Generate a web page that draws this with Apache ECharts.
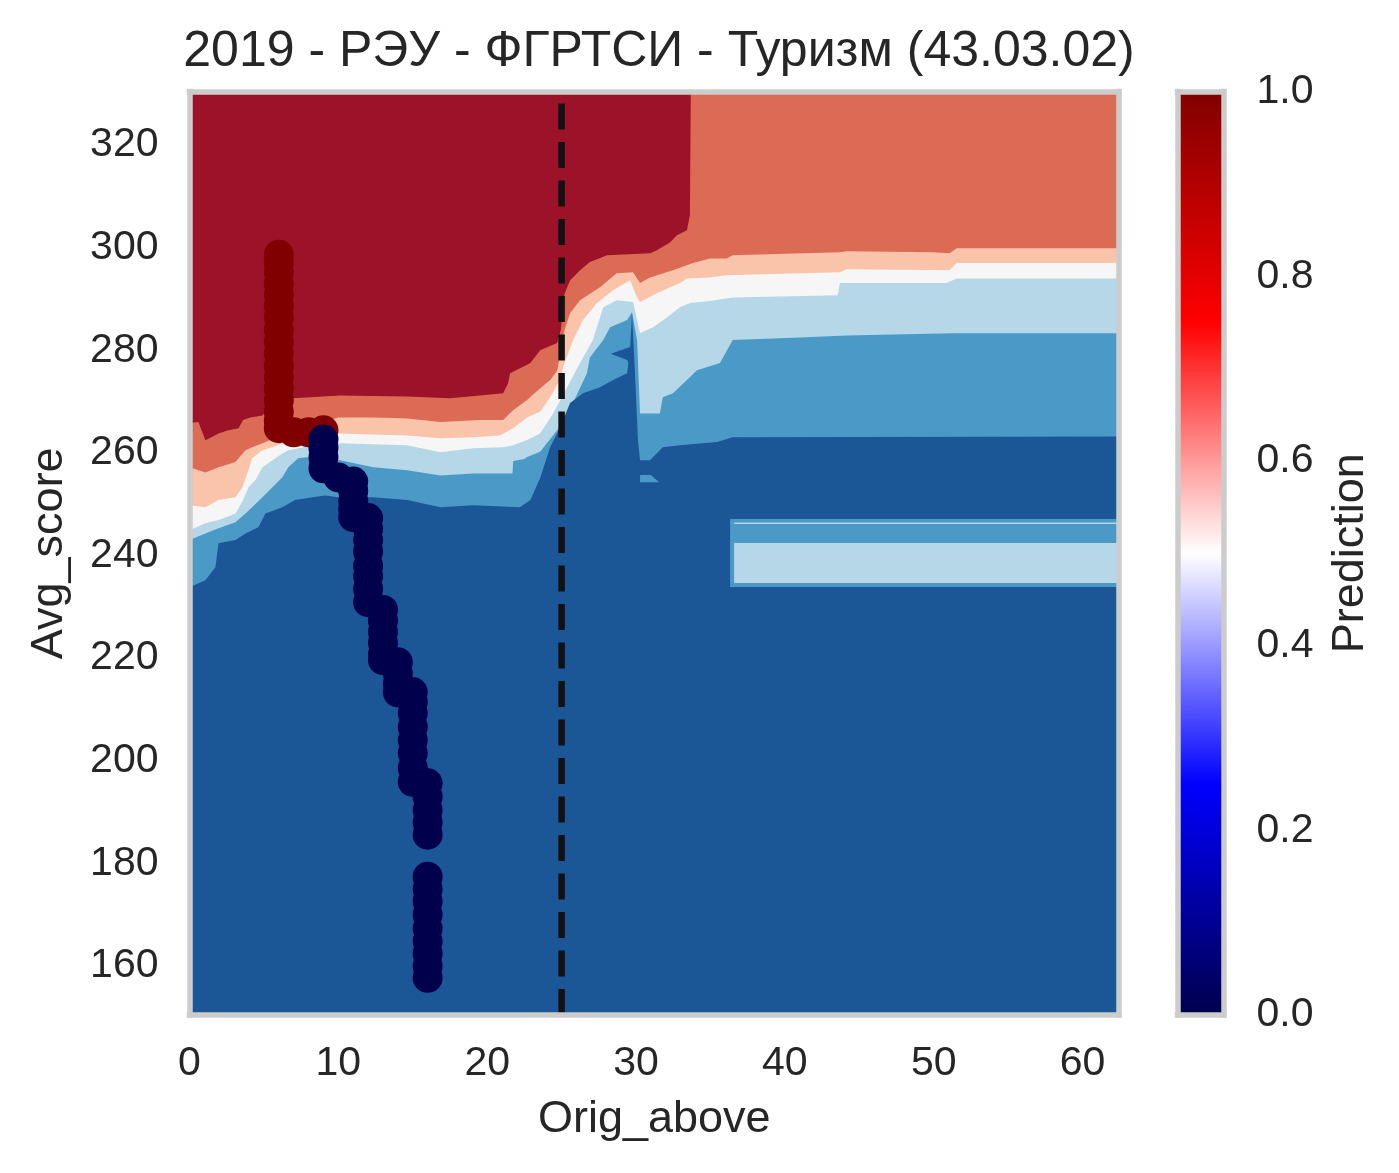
<!DOCTYPE html>
<html><head><meta charset="utf-8">
<script src="https://cdn.jsdelivr.net/npm/echarts@6/dist/echarts.min.js"></script>
<style>html,body{margin:0;padding:0;background:#fff}#c{width:1399px;height:1173px}</style>
</head><body><div id="c"></div>
<script>
// ---------- data ----------
const titleText = '2019 - РЭУ - ФГРТСИ - Туризм (43.03.02)';
const xName = 'Orig_above';
const yName = 'Avg_score';
const cbName = 'Prediction';
const xRange = [0, 62.45];
const yRange = [150.45, 330.43];
const xTicks = [0, 10, 20, 30, 40, 50, 60];
const yTicks = [160, 180, 200, 220, 240, 260, 280, 300, 320];
const cbRange = [0, 1];
const cbTicks = [0, 0.2, 0.4, 0.6, 0.8, 1.0];
const threshold = 25;

// contour level colours (RdBu_r-like), from top level to bottom level
const levelColors = ['#9b1229', '#dc6b55', '#f9c4a9', '#f6f6f6', '#b6d7e8', '#4a99c7', '#1b5796'];

// upper boundary [x, Avg_score] of each filled contour level
const salmonTop = [[0,265.8],[0.6,266.0],[1.07,262.45],[1.95,263.8],[2.6,264.4],[3.3,264.8],[3.6,266.4],[4.1,266.9],[4.9,267.3],[5.1,268.0],[5.5,268.3],[6.0,269.5],[7.0,270.65],[10.1,271.2],[14.6,271.0],[17.5,270.65],[19.5,271.2],[21.07,271.6],[21.4,273.5],[21.54,275.5],[22.9,277.5],[23.56,280.0],[24.7,281.4],[24.95,284.0],[25.2,291.0],[25.57,293.65],[26.24,295.6],[26.9,297.2],[28.05,298.5],[30.94,298.9],[31.4,299.5],[32.28,301.0],[32.75,302.4],[33.42,303.4],[33.62,306.3],[33.68,331],[62.6,331]];
const pinkTop = [[0,257.2],[1.07,256.2],[1.95,257.2],[3.09,258.2],[3.76,260.5],[4.2,261.1],[4.9,261.9],[5.5,262.6],[6.3,263.6],[8.0,265.0],[10.0,266.9],[12.35,266.9],[14.63,266.7],[16.85,266.0],[19.53,266.4],[21.07,266.4],[21.74,268.3],[22.68,270.3],[23.56,272.6],[24.23,274.2],[24.7,276.0],[25.2,284.0],[25.57,287.2],[26.24,289.75],[27.58,292.3],[28.7,295.0],[29.8,295.2],[30.27,293.1],[30.94,294.2],[32.48,295.6],[33.83,297.0],[34.97,297.9],[36.1,297.9],[36.5,298.5],[43.7,299.1],[44.16,299.3],[49.93,299.1],[51.07,298.9],[51.54,299.9],[62.6,299.9]];
const whiteTop = [[0,249.8],[1.07,249.4],[1.95,250.8],[3.09,251.35],[3.56,253.3],[3.96,256.6],[4.2,258.95],[4.9,260.5],[5.57,261.1],[6.24,261.9],[8.0,263.0],[10.0,263.8],[14.63,263.4],[16.85,262.85],[19.06,263.05],[20.87,263.4],[21.74,264.8],[22.68,266.9],[23.56,268.0],[24.23,270.85],[24.9,274.2],[25.1,276.7],[25.77,282.0],[26.44,285.9],[27.38,289.2],[28.46,291.7],[29.6,293.65],[30.07,290.3],[30.27,289.4],[31.4,291.1],[32.95,293.1],[33.42,294.0],[34.97,294.2],[36.1,294.6],[43.7,295.2],[44.16,295.8],[51.07,295.6],[51.54,297.0],[62.6,297.0]];
const lightBlueTop = [[0,244.9],[1.07,246.3],[1.95,246.9],[3.09,248.2],[3.6,250.8],[3.96,253.3],[4.43,254.7],[4.9,257.2],[5.57,258.55],[6.24,259.9],[6.64,260.5],[8.0,261.3],[10.13,261.9],[14.63,261.5],[16.85,260.1],[19.06,260.9],[21.07,261.1],[21.74,261.5],[22.68,262.5],[23.56,263.8],[24.43,267.7],[25.37,272.8],[26.24,277.5],[27.1,282.0],[27.8,288.4],[28.7,289.75],[29.8,289.4],[30.27,283.3],[31.14,284.5],[32.08,286.4],[32.95,288.4],[33.62,289.2],[34.97,289.6],[36.5,290.3],[43.56,290.7],[43.7,293.1],[50.87,293.1],[51.54,294.0],[62.6,294.0]];
const mediumBlueTop = [[0,243.0],[1.07,244.3],[1.95,245.3],[3.09,246.5],[3.76,248.2],[4.2,249.4],[4.9,251.35],[5.57,253.3],[6.24,255.25],[6.64,257.2],[7.3,258.95],[7.8,259.15],[9.0,258.8],[10.13,258.55],[12.35,257.2],[14.63,256.6],[16.85,255.6],[19.06,256.0],[21.7,256.0],[21.75,258.4],[22.5,258.8],[22.68,259.2],[23.56,260.2],[24.7,264.4],[25.77,269.7],[26.7,275.5],[26.9,278.6],[27.8,282.0],[28.26,284.5],[29.4,285.9],[29.73,287.4],[30.07,282.0],[30.27,267.7],[31.6,267.7],[31.8,270.85],[32.48,271.6],[33.42,274.2],[34.1,276.1],[35.64,277.5],[36.5,282.0],[41.0,282.5],[44.16,282.9],[51.28,283.3],[62.6,283.3]];
const darkBlueTop = [[0,233.8],[1.07,235.2],[1.74,237.7],[1.95,242.4],[3.09,243.0],[3.76,244.3],[4.63,245.5],[5.1,248.2],[6.24,249.4],[7.1,250.8],[8.26,251.35],[9.13,251.7],[10.0,251.35],[12.35,251.35],[14.63,250.8],[16.85,249.4],[19.06,249.8],[22.2,249.4],[22.9,250.8],[23.56,255.1],[24.23,261.1],[24.9,265.0],[25.57,269.7],[26.44,271.6],[27.58,272.8],[28.46,274.2],[29.4,275.5],[29.6,280.0],[29.73,287.4],[29.93,275.5],[30.13,262.45],[30.27,258.55],[30.94,258.55],[31.8,261.1],[32.95,261.5],[35.44,262.1],[36.5,263.05],[62.6,263.2]];

// isolated contour patches [x, Avg_score]
const stripeOuter = [[36.32,233.86],[62.6,233.86],[62.6,247.1],[36.32,247.1]];
const stripeInner = [[36.59,234.64],[62.6,234.64],[62.6,242.43],[36.59,242.43]];
const stripeLine = [[36.6,246.15],[62.6,246.15],[62.6,246.45],[36.6,246.45]];
const spikeFlag = [[28.3,279.3],[29.75,280.8],[29.75,276.0],[29.4,278.1]];
const smallIsland = [[30.27,255.7],[31.0,255.7],[31.55,254.3],[30.27,254.3]];

// applicants: label 1 (admitted) and label 0
const posPoints = [[6,298.6],[6,297.2],[6,295.3],[6,293.0],[6,290.8],[6,288.6],[6,286.4],[6,284.0],[6,281.7],[6,279.4],[6,277.0],[6,274.8],[6,272.5],[6,270.2],[6,268.0],[6,266.2],[6,264.8],[7,264.0],[8,264.0],[9,264.4]];
const negPoints = [[9,262.6],[9,261.0],[9,259.2],[9,257.0],[10,255.2],[11,254.4],[11,252.6],[11,250.6],[11,249.0],[11,247.5],[12,247.3],[12,245.2],[12,243.0],[12,240.8],[12,238.0],[12,236.0],[12,233.5],[12,230.9],[13,229.4],[13,227.3],[13,225.1],[13,223.0],[13,220.8],[13,219.6],[14,219.2],[14,217.0],[14,215.0],[14,213.3],[15,213.4],[15,211.5],[15,209.3],[15,206.6],[15,204.0],[15,201.5],[15,198.6],[15,195.9],[16,195.6],[16,193.0],[16,190.4],[16,188.0],[16,185.6],[16,177.4],[16,175.0],[16,172.6],[16,170.0],[16,167.3],[16,164.8],[16,162.4],[16,160.0],[16,157.7]];

// seismic colormap
const cbStops = [0, 0.25, 0.5, 0.75, 1];
const cbColors = ['#00004c', '#0000ff', '#ffffff', '#ff0000', '#800000'];

// ---------- chart ----------
const FONT = 'Liberation Sans, Arial, sans-serif';
const TXT = '#262626';
const chart = echarts.init(document.getElementById('c'), null, {renderer: 'canvas', width: 1399, height: 1173});

const frameLine = {show: true, onZero: false, lineStyle: {color: '#cccccc', width: 5.5, cap: 'square'}};
function axis(extra) {
  return Object.assign({type: 'value', axisLine: frameLine, axisTick: {show: false},
    axisLabel: {show: false}, splitLine: {show: false}, z: 10}, extra);
}
const tickLabel = (vals, margin, fmt) => ({show: true, customValues: vals, margin: margin,
  fontSize: 41, color: TXT, fontFamily: FONT, formatter: fmt});
const nameStyle = {fontSize: 45, color: TXT, fontFamily: FONT};

const bands = [
  [salmonTop, levelColors[1]], [pinkTop, levelColors[2]], [whiteTop, levelColors[3]],
  [lightBlueTop, levelColors[4]], [mediumBlueTop, levelColors[5]], [darkBlueTop, levelColors[6]]
];
const bandSeries = bands.map(([d, c]) => ({
  type: 'line', xAxisIndex: 0, yAxisIndex: 0, data: d, symbol: 'none', showSymbol: false,
  silent: true, lineStyle: {width: 0, opacity: 0}, areaStyle: {color: c, opacity: 1, origin: 'start'}, z: 2
}));

const patches = [
  {pts: stripeOuter, color: levelColors[5]},
  {pts: stripeInner, color: levelColors[4]},
  {pts: stripeLine, color: levelColors[4]},
  {pts: spikeFlag, color: levelColors[6]},
  {pts: smallIsland, color: levelColors[5]}
];

const option = {
  animation: false,
  backgroundColor: '#ffffff',
  title: {text: titleText, left: 654, top: 22, textAlign: 'center',
    textStyle: {fontSize: 50, fontWeight: 'normal', color: TXT, fontFamily: FONT}},
  grid: [
    {left: 189.5, top: 91.5, width: 929.5, height: 923.5, show: true, backgroundColor: levelColors[0], borderWidth: 0},
    {left: 1177.5, top: 91.5, width: 46, height: 923.5, show: false}
  ],
  xAxis: [
    axis({gridIndex: 0, position: 'bottom', min: xRange[0], max: xRange[1],
      axisLabel: tickLabel(xTicks, 28), name: xName, nameLocation: 'middle', nameGap: 82, nameTextStyle: nameStyle}),
    axis({gridIndex: 0, position: 'top', min: xRange[0], max: xRange[1]}),
    axis({gridIndex: 1, position: 'bottom', min: cbRange[0], max: cbRange[1]}),
    axis({gridIndex: 1, position: 'top', min: cbRange[0], max: cbRange[1]})
  ],
  yAxis: [
    axis({gridIndex: 0, position: 'left', min: yRange[0], max: yRange[1],
      axisLabel: tickLabel(yTicks, 31), name: yName, nameLocation: 'middle', nameGap: 117, nameTextStyle: nameStyle}),
    axis({gridIndex: 0, position: 'right', min: yRange[0], max: yRange[1]}),
    axis({gridIndex: 1, position: 'left', min: cbRange[0], max: cbRange[1]}),
    axis({gridIndex: 1, position: 'right', min: cbRange[0], max: cbRange[1],
      axisLabel: tickLabel(cbTicks, 33, v => Number(v).toFixed(1)), name: cbName, nameLocation: 'middle',
      nameGap: 105, nameRotate: 90, nameTextStyle: nameStyle})
  ],
  series: [
    ...bandSeries,
    {
      type: 'custom', xAxisIndex: 0, yAxisIndex: 0, silent: true, clip: true, z: 3,
      data: patches.map(p => p.pts[0]),
      renderItem: (params, api) => {
        const p = patches[params.dataIndex];
        return {type: 'polygon', shape: {points: p.pts.map(q => api.coord(q))}, style: {fill: p.color}};
      }
    },
    {
      type: 'line', xAxisIndex: 0, yAxisIndex: 0, symbol: 'none', silent: true, z: 4,
      data: [[threshold, yRange[0]], [threshold, yRange[1]]],
      lineStyle: {color: '#111111', width: 6.5, type: [26, 12.5]}
    },
    {
      type: 'scatter', xAxisIndex: 0, yAxisIndex: 0, symbolSize: 30, silent: true, z: 5,
      data: posPoints, itemStyle: {color: cbColors[4], opacity: 1}
    },
    {
      type: 'scatter', xAxisIndex: 0, yAxisIndex: 0, symbolSize: 30, silent: true, z: 5,
      data: negPoints, itemStyle: {color: cbColors[0], opacity: 1}
    },
    {
      type: 'custom', xAxisIndex: 2, yAxisIndex: 2, silent: true, z: 2,
      data: [[cbRange[0], cbRange[0]]],
      renderItem: (params, api) => {
        const tl = api.coord([cbRange[0], cbRange[1]]);
        const br = api.coord([cbRange[1], cbRange[0]]);
        const stops = cbStops.map((s, i) => ({offset: 1 - s, color: cbColors[i]})).reverse();
        return {type: 'rect', shape: {x: tl[0], y: tl[1], width: br[0] - tl[0], height: br[1] - tl[1]},
          style: {fill: new echarts.graphic.LinearGradient(0, 0, 0, 1, stops)}};
      }
    }
  ]
};
chart.setOption(option);
</script></body></html>
